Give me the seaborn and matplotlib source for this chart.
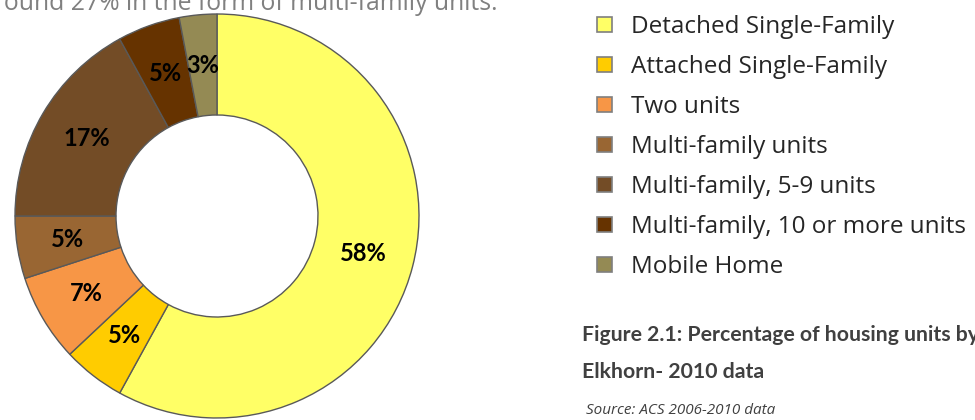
import matplotlib.pyplot as plt
import seaborn as sns
from matplotlib.patches import Patch

sns.set_style('white')
plt.rcParams['font.family'] = ['Open Sans', 'DejaVu Sans']

categories = [
    'Detached Single-Family',
    'Attached Single-Family',
    'Two units',
    'Multi-family units',
    'Multi-family, 5-9 units',
    'Multi-family, 10 or more units',
    'Mobile Home',
]
shares = [58, 5, 7, 5, 17, 5, 3]
colors = ['#FFFF66', '#FFCC00', '#F79646', '#996633', '#734C26', '#663300', '#948A54']

W, H = 975, 420
fig = plt.figure(figsize=(W / 100, H / 100), dpi=100)

# donut axes placed in pixel terms: centre (217, 216), radius 203
cx, cy, r = 217, 216, 203
ax = fig.add_axes([(cx - r) / W, (H - cy - r) / H, 2 * r / W, 2 * r / H])
wedges, _, autotexts = ax.pie(
    shares,
    colors=colors,
    startangle=90,
    counterclock=False,
    autopct='%d%%',
    pctdistance=0.75,
    wedgeprops=dict(width=0.5, edgecolor='#595959', linewidth=1),
    textprops=dict(fontsize=17, fontweight='bold', color='black', family=['Lato', 'DejaVu Sans']),
)
ax.set_xlim(-1.005, 1.005)
ax.set_ylim(-1.005, 1.005)
ax.set_aspect('equal')
ax.axis('off')

handles = [Patch(facecolor=c, edgecolor='#7F7F7F', linewidth=1.2) for c in colors]
fig.legend(
    handles, categories,
    loc='upper left', bbox_to_anchor=(597 / W, 1 - 15 / H),
    frameon=False, fontsize=17.5,
    handlelength=0.6, handleheight=0.6, handletextpad=0.8,
    labelspacing=0.66, borderpad=0, borderaxespad=0,
)

# body text cut off at the top of the crop
fig.text(498 / W, 1 - 10 / H, 'around 27% in the form of multi-family units.',
         ha='right', va='baseline', fontsize=17.8, color='#808080')

fig.text(582 / W, 1 - 335 / H, 'Figure 2.1: Percentage of housing units by type in',
         ha='left', va='center', fontsize=15.3, fontweight='bold', color='#404040',
         family=['Lato', 'DejaVu Sans'])
fig.text(582 / W, 1 - 372 / H, 'Elkhorn- 2010 data',
         ha='left', va='center', fontsize=15.3, fontweight='bold', color='#404040',
         family=['Lato', 'DejaVu Sans'])
fig.text(586 / W, 1 - 410 / H, 'Source: ACS 2006-2010 data',
         ha='left', va='center', fontsize=11, style='italic', color='#404040')

fig.savefig('out.png', dpi=100)
